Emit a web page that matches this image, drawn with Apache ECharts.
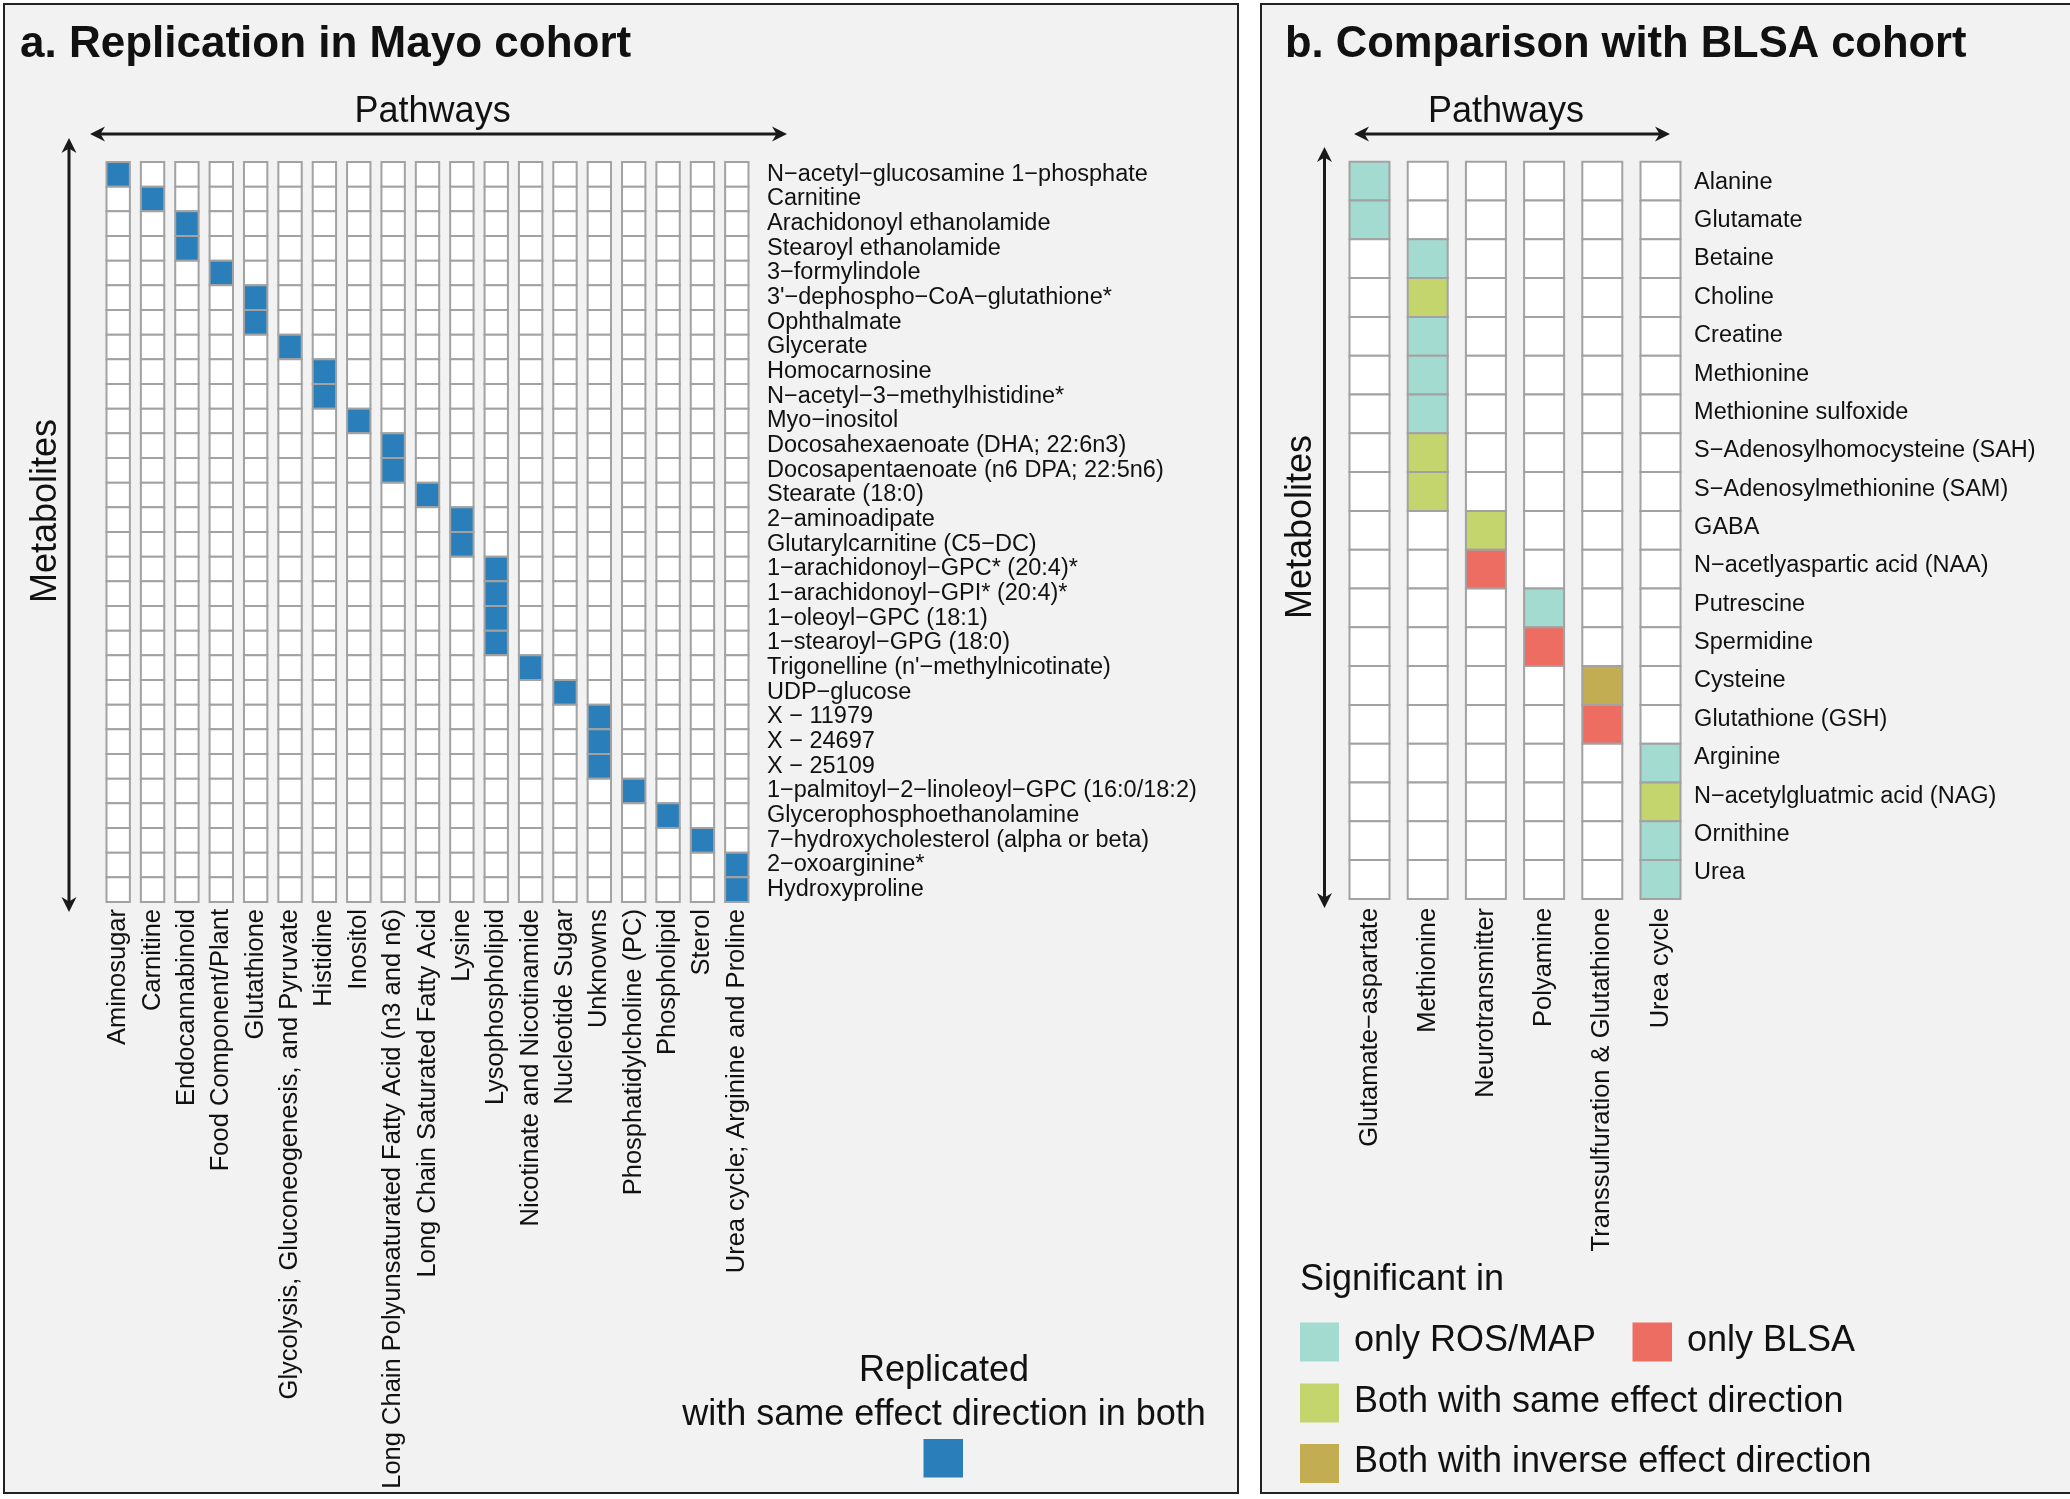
<!DOCTYPE html>
<html><head><meta charset="utf-8">
<script src="https://cdn.jsdelivr.net/npm/echarts@6/dist/echarts.min.js"></script>
<style>html,body{margin:0;padding:0;background:#fff}#c{width:2070px;height:1499px}</style>
</head><body><div id="c"></div><script>
// ---------- Panel a data ----------
const pathwaysA = ['Aminosugar','Carnitine','Endocannabinoid','Food Component/Plant','Glutathione',
  'Glycolysis, Gluconeogenesis, and Pyruvate','Histidine','Inositol',
  'Long Chain Polyunsaturated Fatty Acid (n3 and n6)','Long Chain Saturated Fatty Acid','Lysine',
  'Lysophospholipid','Nicotinate and Nicotinamide','Nucleotide Sugar','Unknowns',
  'Phosphatidylcholine (PC)','Phospholipid','Sterol','Urea cycle; Arginine and Proline'];
const metabolitesA = ['N−acetyl−glucosamine 1−phosphate','Carnitine','Arachidonoyl ethanolamide',
  'Stearoyl ethanolamide','3−formylindole','3\'−dephospho−CoA−glutathione*','Ophthalmate','Glycerate',
  'Homocarnosine','N−acetyl−3−methylhistidine*','Myo−inositol','Docosahexaenoate (DHA; 22:6n3)',
  'Docosapentaenoate (n6 DPA; 22:5n6)','Stearate (18:0)','2−aminoadipate','Glutarylcarnitine (C5−DC)',
  '1−arachidonoyl−GPC* (20:4)*','1−arachidonoyl−GPI* (20:4)*','1−oleoyl−GPC (18:1)','1−stearoyl−GPG (18:0)',
  'Trigonelline (n\'−methylnicotinate)','UDP−glucose','X − 11979','X − 24697','X − 25109',
  '1−palmitoyl−2−linoleoyl−GPC (16:0/18:2)','Glycerophosphoethanolamine','7−hydroxycholesterol (alpha or beta)',
  '2−oxoarginine*','Hydroxyproline'];
// pathway of each replicated metabolite (same order as metabolitesA)
const metabolitePathwayA = ['Aminosugar','Carnitine','Endocannabinoid','Endocannabinoid','Food Component/Plant',
  'Glutathione','Glutathione','Glycolysis, Gluconeogenesis, and Pyruvate','Histidine','Histidine','Inositol',
  'Long Chain Polyunsaturated Fatty Acid (n3 and n6)','Long Chain Polyunsaturated Fatty Acid (n3 and n6)',
  'Long Chain Saturated Fatty Acid','Lysine','Lysine','Lysophospholipid','Lysophospholipid','Lysophospholipid',
  'Lysophospholipid','Nicotinate and Nicotinamide','Nucleotide Sugar','Unknowns','Unknowns','Unknowns',
  'Phosphatidylcholine (PC)','Phospholipid','Sterol','Urea cycle; Arginine and Proline','Urea cycle; Arginine and Proline'];

// ---------- Panel b data ----------
const pathwaysB = ['Glutamate−aspartate','Methionine','Neurotransmitter','Polyamine','Transsulfuration & Glutathione','Urea cycle'];
const metabolitesB = ['Alanine','Glutamate','Betaine','Choline','Creatine','Methionine','Methionine sulfoxide',
  'S−Adenosylhomocysteine (SAH)','S−Adenosylmethionine (SAM)','GABA','N−acetlyaspartic acid (NAA)','Putrescine',
  'Spermidine','Cysteine','Glutathione (GSH)','Arginine','N−acetylgluatmic acid (NAG)','Ornithine','Urea'];
const metabolitePathwayB = ['Glutamate−aspartate','Glutamate−aspartate','Methionine','Methionine','Methionine','Methionine',
  'Methionine','Methionine','Methionine','Neurotransmitter','Neurotransmitter','Polyamine','Polyamine',
  'Transsulfuration & Glutathione','Transsulfuration & Glutathione','Urea cycle','Urea cycle','Urea cycle','Urea cycle'];
const significanceB = ['only ROS/MAP','only ROS/MAP','only ROS/MAP','Both with same effect direction','only ROS/MAP',
  'only ROS/MAP','only ROS/MAP','Both with same effect direction','Both with same effect direction',
  'Both with same effect direction','only BLSA','only ROS/MAP','only BLSA','Both with inverse effect direction',
  'only BLSA','only ROS/MAP','Both with same effect direction','only ROS/MAP','only ROS/MAP'];
const legendB = ['only ROS/MAP','only BLSA','Both with same effect direction','Both with inverse effect direction'];

// ---------- styling ----------
const FONT = 'Liberation Sans, Arial, Helvetica, sans-serif';
const INK = '#111111';
const BLUE = '#2a7fba';
const colorsB = {'only ROS/MAP':'#a3dbd1','only BLSA':'#ee6d63','Both with same effect direction':'#c3d56c','Both with inverse effect direction':'#c2ad53'};

// build cell tables
const cellsA = [];
pathwaysA.forEach((p, xi) => metabolitesA.forEach((m, yi) => {
  cellsA.push([xi, yi, metabolitePathwayA[yi] === p ? 1 : 0]);
}));
const cellsB = [];
pathwaysB.forEach((p, xi) => metabolitesB.forEach((m, yi) => {
  const hit = metabolitePathwayB[yi] === p;
  cellsB.push([xi, yi, hit ? legendB.indexOf(significanceB[yi]) + 1 : 0]);
}));
const fillA = ['#ffffff', BLUE];
const fillB = ['#ffffff'].concat(legendB.map(k => colorsB[k]));

function cellRenderer(frac, fills) {
  return function (params, api) {
    const c = api.coord([api.value(0), api.value(1)]);
    const band = api.size([1, 1]);
    const w = band[0] * frac, h = band[1];
    return {type: 'rect', shape: {x: c[0] - w / 2, y: c[1] - h / 2, width: w, height: h},
      style: {fill: fills[api.value(2)], stroke: '#a2a2a2', lineWidth: 2}};
  };
}

function arrow(x1, y1, x2, y2) {
  const els = [];
  const dx = x2 - x1, dy = y2 - y1, len = Math.hypot(dx, dy);
  const ux = dx / len, uy = dy / len, nx = -uy, ny = ux;
  const L = 15, W = 7.5, N = 10;
  els.push({type: 'line', z: 50, shape: {x1: x1 + ux * N, y1: y1 + uy * N, x2: x2 - ux * N, y2: y2 - uy * N},
    style: {stroke: '#1a1a1a', lineWidth: 3}});
  [[x1, y1, -1], [x2, y2, 1]].forEach(([px, py, s]) => {
    const bx = px - s * ux * L, by = py - s * uy * L;
    els.push({type: 'polygon', z: 50, shape: {points: [[px, py], [bx + nx * W, by + ny * W],
      [px - s * ux * L * 0.7, py - s * uy * L * 0.7], [bx - nx * W, by - ny * W]]},
      style: {fill: '#1a1a1a'}});
  });
  return els;
}
function txt(x, y, text, size, opt) {
  opt = opt || {};
  return {type: 'text', z: 50, x: x, y: y, rotation: opt.rot || 0,
    style: {text: text, fill: INK, font: (opt.bold ? 'bold ' : '') + size + 'px ' + FONT,
      align: opt.align || 'left', verticalAlign: 'middle'}};
}

const graphics = [
  {type: 'rect', z: -10, shape: {x: 4, y: 4, width: 1234, height: 1489}, style: {fill: '#f2f2f2', stroke: '#222', lineWidth: 2}},
  {type: 'rect', z: -10, shape: {x: 1261, y: 4, width: 1803, height: 1489}, style: {fill: '#f2f2f2', stroke: '#222', lineWidth: 2}},
  txt(20, 45, 'a. Replication in Mayo cohort', 44, {bold: true}),
  txt(1285, 45, 'b. Comparison with BLSA cohort', 43.5, {bold: true}),
  txt(432.6, 112, 'Pathways', 36, {align: 'center'}),
  txt(1506, 112, 'Pathways', 36, {align: 'center'}),
  txt(46, 511, 'Metabolites', 36, {align: 'center', rot: Math.PI / 2}),
  txt(1301, 527, 'Metabolites', 36, {align: 'center', rot: Math.PI / 2}),
  txt(944, 1371, 'Replicated', 36, {align: 'center'}),
  txt(944, 1415, 'with same effect direction in both', 36, {align: 'center'}),
  {type: 'rect', z: 50, shape: {x: 923.5, y: 1439, width: 39.5, height: 38.5}, style: {fill: BLUE}},
  txt(1300, 1280, 'Significant in', 36),
  {type: 'rect', z: 50, shape: {x: 1300, y: 1322.5, width: 39, height: 39}, style: {fill: colorsB[legendB[0]]}},
  txt(1354, 1341.5, legendB[0], 36),
  {type: 'rect', z: 50, shape: {x: 1632.5, y: 1322.5, width: 39.5, height: 39}, style: {fill: colorsB[legendB[1]]}},
  txt(1687, 1341.5, legendB[1], 36),
  {type: 'rect', z: 50, shape: {x: 1300, y: 1383.5, width: 39, height: 39}, style: {fill: colorsB[legendB[2]]}},
  txt(1354, 1402.5, legendB[2], 36),
  {type: 'rect', z: 50, shape: {x: 1300, y: 1444, width: 39, height: 39}, style: {fill: colorsB[legendB[3]]}},
  txt(1354, 1462.5, legendB[3], 36)
].concat(arrow(90, 134, 787, 134), arrow(69, 138, 69, 912), arrow(1354, 134, 1670, 134), arrow(1324.5, 147, 1324.5, 908));
graphics.sort((a, b) => (a.z || 0) - (b.z || 0));

const labelStyle = {color: INK, fontFamily: FONT, fontSize: 23.5};
const xLabelStyle = {color: INK, fontFamily: FONT, fontSize: 25.5};
const hidden = {axisLine: {show: false}, axisTick: {show: false}, splitLine: {show: false}};
const chart = echarts.init(document.getElementById('c'), null, {renderer: 'canvas'});
chart.setOption({
  animation: false,
  backgroundColor: '#ffffff',
  grid: [
    {left: 101, top: 162, width: 653, height: 740, containLabel: false, outerBoundsMode: 'none'},
    {left: 1340.4, top: 161.7, width: 349.2, height: 737.2, containLabel: false, outerBoundsMode: 'none'},
    // label band of panel b (its metabolite names sit on a slightly tighter pitch than the cells)
    {left: 1340.4, top: 163, width: 349.2, height: 729, containLabel: false, outerBoundsMode: 'none'}
  ],
  xAxis: [
    Object.assign({type: 'category', gridIndex: 0, data: pathwaysA, position: 'bottom',
      axisLabel: Object.assign({rotate: 90, interval: 0, margin: 7}, xLabelStyle)}, hidden),
    Object.assign({type: 'category', gridIndex: 1, data: pathwaysB, position: 'bottom',
      axisLabel: Object.assign({rotate: 90, interval: 0, margin: 9}, xLabelStyle)}, hidden),
    Object.assign({type: 'category', gridIndex: 2, data: pathwaysB, show: false}, hidden)
  ],
  yAxis: [
    Object.assign({type: 'category', gridIndex: 0, data: metabolitesA, inverse: true, position: 'right',
      axisLabel: Object.assign({interval: 0, margin: 13, align: 'left'}, labelStyle)}, hidden),
    Object.assign({type: 'category', gridIndex: 1, data: metabolitesB, inverse: true, position: 'right',
      axisLabel: {show: false}}, hidden),
    Object.assign({type: 'category', gridIndex: 2, data: metabolitesB, inverse: true, position: 'right',
      axisLabel: Object.assign({interval: 0, margin: 4.5, align: 'left'}, labelStyle)}, hidden)
  ],
  series: [
    {type: 'custom', name: 'Replicated', xAxisIndex: 0, yAxisIndex: 0, data: cellsA, encode: {x: 0, y: 1},
      renderItem: cellRenderer(0.68, fillA), silent: true},
    {type: 'custom', name: 'Significant in', xAxisIndex: 1, yAxisIndex: 1, data: cellsB, encode: {x: 0, y: 1},
      renderItem: cellRenderer(0.687, fillB), silent: true}
  ],
  graphic: {elements: graphics}
});
</script></body></html>
